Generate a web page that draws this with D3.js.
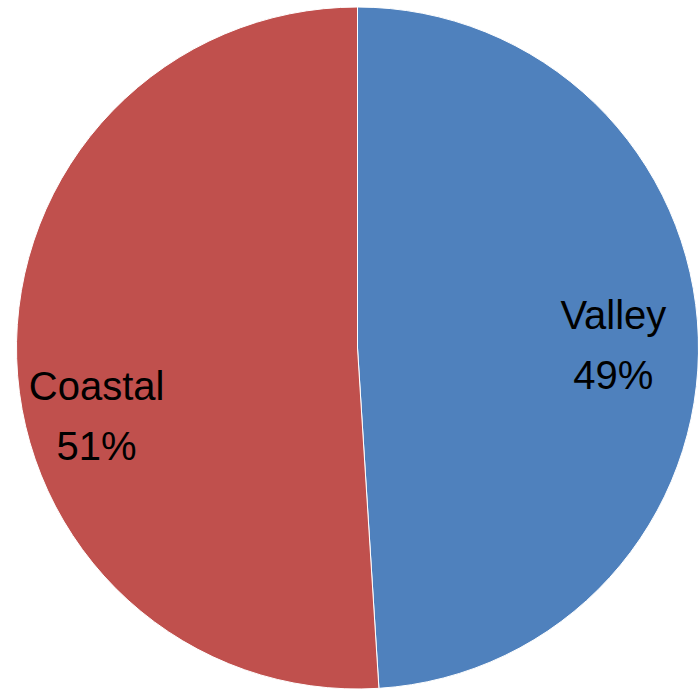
<!DOCTYPE html>
<html>
<head>
<meta charset="utf-8">
<script src="https://cdn.jsdelivr.net/npm/d3@7"></script>
<style>
  body { margin: 0; background: #fff; }
  svg { display: block; }
</style>
</head>
<body>
<script>
// slice data
var regions = ["Valley", "Coastal"];
var shares = [49, 51];
var colors = ["#4F81BD", "#C0504D"];

var width = 698, height = 690;
var cx = 357.5, cy = 348, radius = 341;

var svg = d3.select("body").append("svg")
  .attr("width", width)
  .attr("height", height);

var g = svg.append("g")
  .attr("transform", "translate(" + cx + "," + cy + ")");

var pie = d3.pie().sort(null).value(function(d){ return d; });
var slices = pie(shares);

var arc = d3.arc().innerRadius(0).outerRadius(radius);
var labelArc = d3.arc().innerRadius(256).outerRadius(256);

g.selectAll("path")
  .data(slices)
  .enter()
  .append("path")
  .attr("d", arc)
  .style("fill", function(d, i){ return colors[i]; })
  .style("stroke", "#fff")
  .style("stroke-width", 1);

// nudges for each label block (excel puts them a bit off centroid)
var labelShift = [[0, -11], [-5, 44]];

var labels = g.selectAll("text")
  .data(slices)
  .enter()
  .append("text")
  .attr("transform", function(d, i){
    var c = labelArc.centroid(d);
    return "translate(" + (c[0] + labelShift[i][0]) + "," + (c[1] + labelShift[i][1]) + ")";
  })
  .attr("text-anchor", "middle")
  .style("font-family", "'Liberation Sans', Arial, sans-serif")
  .style("font-size", "40px")
  .style("fill", "#000");

labels.append("tspan")
  .attr("x", 0)
  .attr("y", 0)
  .text(function(d, i){ return regions[i]; });

labels.append("tspan")
  .attr("x", 0)
  .attr("y", 60)
  .text(function(d){ return d.value + "%"; });
</script>
</body>
</html>
